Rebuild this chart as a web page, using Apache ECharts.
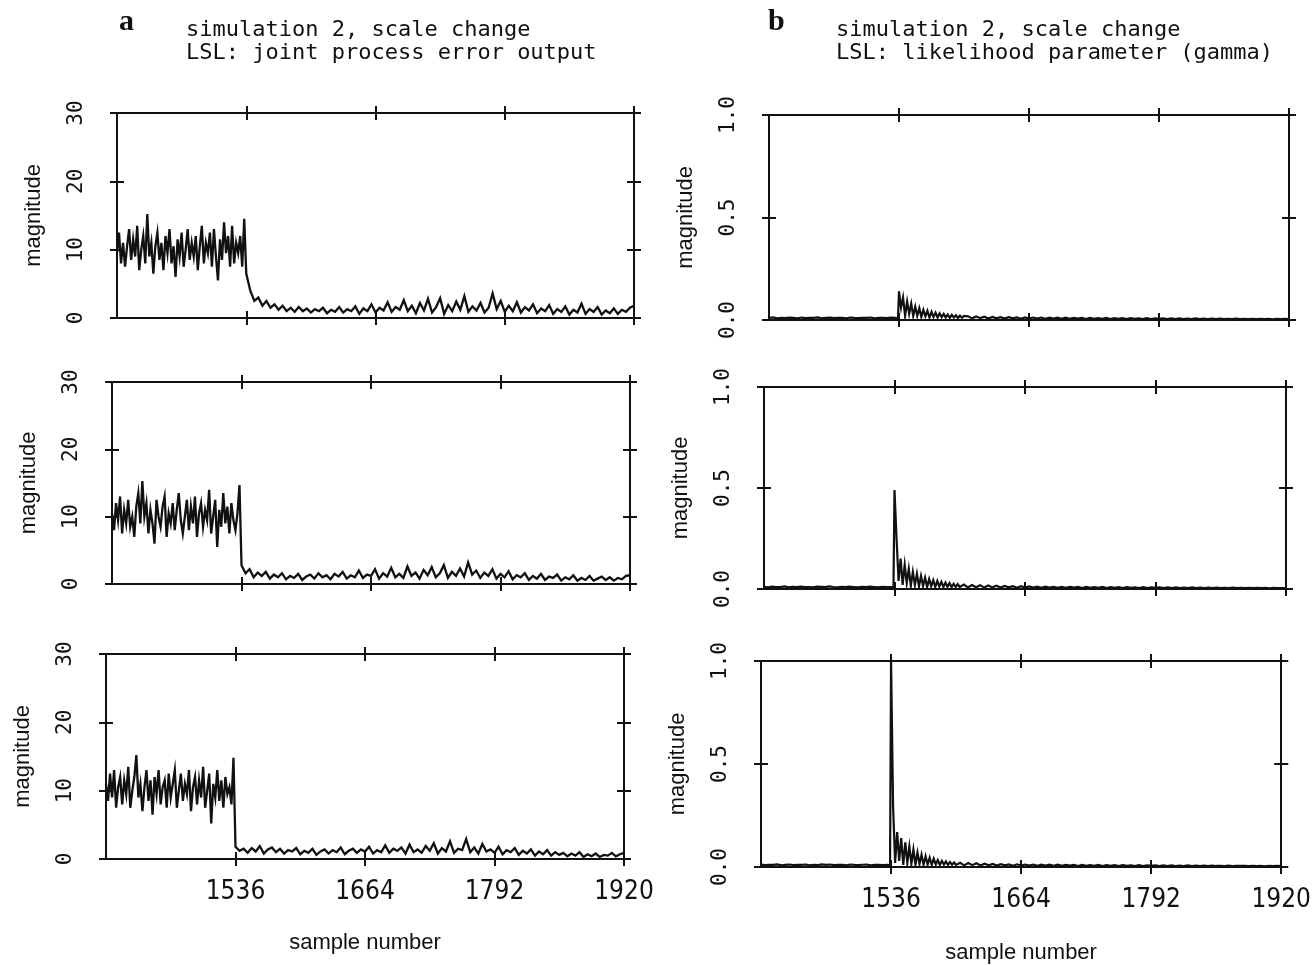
<!DOCTYPE html>
<html><head><meta charset="utf-8">
<script src="https://cdn.jsdelivr.net/npm/echarts@6/dist/echarts.min.js"></script>
<style>html,body{margin:0;padding:0;background:#fff}#c{width:1314px;height:965px}</style>
</head><body><div id="c"></div>
<script>
// ---------- text & tick labels ----------
const xTickValues = [1536, 1664, 1792, 1920];
const yTicksA = [0, 10, 20, 30];
const yTicksB = [0, 0.5, 1.0];
const letterA = 'a';
const letterB = 'b';
const titleA = ['simulation 2, scale change', 'LSL: joint process error output'];
const titleB = ['simulation 2, scale change', 'LSL: likelihood parameter (gamma)'];
const yName = 'magnitude';
const xName = 'sample number';

// ---------- sample numbers (x) ----------
function range(s, e, st) { const r = []; for (let v = s; v <= e; v += st) r.push(v); return r; }
const samplesA = range(1408, 1534, 2).concat(range(1536, 1920, 4));
const samplesB = range(1408, 1532, 4).concat([1535], range(1536, 1600, 2), range(1604, 1920, 4));

// ---------- column a: joint process error output ----------
const a1Pre = [9.5,12.5,8,11,7.5,10.5,13,8.5, 11.5,9,13.5,7,10,12,8,15.2, 9,11,6.5,10.5,12.5,8.5,11,7, 12,9.5,13,8,10.5,6,11.5,9,
  12.5,7.5,10,13,8.5,11,9,12, 7,10.5,13.5,8,11,9.5,12.5,7.5, 13,9,5.5,11.5,8.5,14,9.5,12, 7.5,13.5,8,11,9.5,12,7.5,14.5];
const a1Post = [6.5,4,2.5,3,1.8,2.5,1.5,2, 1.2,1.8,1,1.5,0.9,1.6,1,1.4, 0.8,1.3,1,1.5,0.7,1.2,0.9,1.6, 0.8,1.3,1,1.7,0.6,1.4,1,2,
  0.8,1.5,1.1,2.3,0.9,1.6,1.2,2.6, 1,1.8,0.7,2.2,1.1,2.8,0.8,1.6, 2.9,0.6,1.9,1,2.4,1.2,3.2,0.9, 1.7,1.1,2.2,0.8,1.5,3.6,1.3,2.5,
  0.9,1.8,1,2.3,0.8,1.6,1.1,2, 0.7,1.4,1,1.9,0.6,1.3,0.9,1.7, 0.5,1.2,0.8,2.1,0.6,1.3,0.9,1.6, 0.5,1.1,0.7,1.4,0.6,1.2,0.9,1.5, 1.8];
const a2Pre = [10.5,8,12,9.5,13,7.5,11,9, 12.5,8.5,10,7,11.5,13.5,9,15.3, 10,12,7.5,11,9,6,12.5,10, 8.5,11.5,13,7,10.5,9,12,8,
  11,13.5,9.5,7.5,10,12.5,8,11.5, 9,13,7,10.5,12,8.5,11,9.5, 14,7.5,10,12.5,5.5,11,8.5,13.5, 9,11.5,7.5,12,9.5,8,10.5,14.7];
const a2Post = [2.8,1.6,2.2,1,1.7,1.2,1.8,0.8, 1.4,1,1.6,0.7,1.2,0.9,1.5,0.6, 1.1,1.4,0.8,1.6,1,1.3,0.7,1.5, 1.1,1.8,0.8,1.3,1,2,0.9,1.4,
  1.2,2.2,0.8,1.6,1.1,2.4,1,1.5, 0.9,2.6,1.2,1.7,0.8,2.1,1.3,2.5, 1,1.6,2.8,0.9,1.8,1.2,2.3,1.1, 3.2,1.4,2,0.9,1.7,1.2,2.2,0.8,
  1.5,1,1.9,0.7,1.3,1,1.6,0.6, 1.2,0.8,1.5,0.6,1.1,0.9,1.4,0.5, 1,0.7,1.3,0.5,0.9,0.6,1.2,0.5, 0.8,1.1,0.6,1,0.5,0.9,0.7,1.2, 1.3];
const a3Pre = [11,8.5,12.5,9,13,7.5,10.5,12, 8,11.5,9.5,13.5,7.5,10,12,15.2, 9,11,7,10.5,13,8.5,11.5,6.5, 12,9.5,13,8,10.5,11.5,7.5,12.5,
  9,11,13,7.5,10,12.5,8.5,11, 9.5,13,7,10.5,12,8,11.5,9, 13.5,7.5,10,12.5,5.2,11,9,13, 8.5,11.5,7.5,12,9.5,10.5,8,14.8];
const a3Post = [1.8,1.2,1.5,0.9,1.6,1.1,1.9,0.8, 1.4,1.7,1,1.5,0.8,1.3,1.1,1.6, 0.7,1.2,0.9,1.5,0.6,1.1,1.4,0.8, 1.3,1,1.7,0.7,1.2,1.5,0.9,1.4,
  1.1,1.8,0.8,1.3,1,2,0.9,1.5, 1.2,1.7,0.8,2.1,1,1.4,0.9,1.9, 1.2,2.3,0.8,1.6,1.1,2.6,0.9,1.5, 1.3,2.9,1,1.7,0.8,2.2,1.1,1.4,
  0.9,1.8,0.7,1.3,1,1.6,0.6,1.2, 0.8,1.4,0.5,1.1,0.7,1.3,0.5,1, 0.6,0.9,0.4,0.8,0.5,1,0.3,0.7, 0.4,0.8,0.3,0.6,0.5,0.9,0.4,0.7, 0.9];

// ---------- column b: likelihood parameter (gamma) ----------
const b1Pre = [0.010,0.013,0.008,0.011,0.009,0.012,0.010,0.008, 0.012,0.009,0.011,0.010,0.013,0.008,0.010,0.012,
  0.009,0.011,0.010,0.008,0.012,0.010,0.009,0.011, 0.010,0.012,0.008,0.010,0.011,0.009,0.012,0.010, 0.008];
const b1Decay = [0.14,0.06,0.11,0.02,0.09,0.03,0.08,0.02, 0.065,0.02,0.058,0.015,0.05,0.018,0.045,0.012,
  0.04,0.015,0.036,0.012,0.032,0.014,0.03,0.012, 0.027,0.01,0.025,0.012,0.023,0.01,0.021,0.011, 0.02];
const b1Tail = [0.018,0.008,0.017,0.009,0.016,0.007,0.015,0.008, 0.014,0.007,0.014,0.008,0.013,0.006,0.013,0.007,
  0.012,0.007,0.012,0.006,0.011,0.007,0.011,0.006, 0.011,0.006,0.010,0.007,0.010,0.005,0.010,0.006,
  0.009,0.006,0.010,0.005,0.009,0.006,0.009,0.005, 0.009,0.006,0.008,0.005,0.009,0.005,0.008,0.006,
  0.008,0.005,0.008,0.004,0.008,0.005,0.007,0.005, 0.008,0.004,0.007,0.005,0.007,0.004,0.007,0.005,
  0.006,0.004,0.007,0.004,0.006,0.005,0.006,0.004, 0.006,0.004,0.006,0.003,0.006,0.004,0.005,0.004];
const b2Pre = [0.011,0.008,0.012,0.010,0.009,0.013,0.008,0.011, 0.010,0.012,0.009,0.010,0.008,0.012,0.011,0.009,
  0.013,0.010,0.008,0.011,0.009,0.012,0.010,0.008, 0.011,0.009,0.012,0.010,0.008,0.011,0.010,0.009, 0.008];
const b2Decay = [0.49,0.25,0.04,0.15,0.02,0.12,0.03,0.1, 0.015,0.085,0.02,0.075,0.012,0.065,0.015,0.056,
  0.01,0.05,0.014,0.044,0.01,0.04,0.012,0.035, 0.01,0.032,0.011,0.029,0.01,0.026,0.01,0.024, 0.01];
const b2Tail = [0.022,0.008,0.020,0.009,0.019,0.007,0.017,0.008, 0.016,0.007,0.015,0.008,0.014,0.006,0.014,0.007,
  0.013,0.007,0.012,0.006,0.012,0.007,0.011,0.006, 0.011,0.006,0.010,0.007,0.010,0.005,0.010,0.006,
  0.009,0.006,0.010,0.005,0.009,0.006,0.009,0.005, 0.009,0.006,0.008,0.005,0.009,0.005,0.008,0.006,
  0.008,0.005,0.008,0.004,0.008,0.005,0.007,0.005, 0.008,0.004,0.007,0.005,0.007,0.004,0.007,0.005,
  0.006,0.004,0.007,0.004,0.006,0.005,0.006,0.004, 0.006,0.004,0.006,0.003,0.006,0.004,0.005,0.004];
const b3Pre = [0.012,0.009,0.011,0.010,0.013,0.008,0.010,0.012, 0.009,0.011,0.010,0.012,0.008,0.011,0.009,0.013,
  0.010,0.012,0.009,0.011,0.010,0.008,0.012,0.010, 0.009,0.011,0.012,0.008,0.010,0.011,0.009,0.010, 0.008];
const b3Decay = [1.0,0.29,0.02,0.17,0.03,0.14,0.01,0.12, 0.02,0.1,0.015,0.085,0.01,0.07,0.015,0.06,
  0.01,0.052,0.012,0.045,0.01,0.04,0.012,0.034, 0.01,0.03,0.012,0.027,0.01,0.024,0.011,0.022, 0.01];
const b3Tail = [0.020,0.008,0.019,0.009,0.018,0.007,0.016,0.008, 0.015,0.007,0.014,0.008,0.013,0.006,0.013,0.007,
  0.012,0.007,0.012,0.006,0.011,0.007,0.011,0.006, 0.011,0.006,0.010,0.007,0.010,0.005,0.010,0.006,
  0.009,0.006,0.010,0.005,0.009,0.006,0.009,0.005, 0.009,0.006,0.008,0.005,0.009,0.005,0.008,0.006,
  0.008,0.005,0.008,0.004,0.008,0.005,0.007,0.005, 0.008,0.004,0.007,0.005,0.007,0.004,0.007,0.005,
  0.006,0.004,0.007,0.004,0.006,0.005,0.006,0.004, 0.006,0.004,0.006,0.003,0.006,0.004,0.005,0.004];

const seriesValues = [
  a1Pre.concat(a1Post), b1Pre.concat(b1Decay, b1Tail),
  a2Pre.concat(a2Post), b2Pre.concat(b2Decay, b2Tail),
  a3Pre.concat(a3Post), b3Pre.concat(b3Decay, b3Tail)
];

// ---------- layout ----------
const INK = '#111';
const panels = [
  {left:117, top:113, width:517, height:205, col:'a', bottom:false},
  {left:769, top:115, width:520, height:205, col:'b', bottom:false},
  {left:112, top:382, width:518, height:202, col:'a', bottom:false},
  {left:764, top:387, width:522, height:202, col:'b', bottom:false},
  {left:106, top:654, width:518, height:205, col:'a', bottom:true},
  {left:761, top:661, width:524, height:206, col:'b', bottom:true}
];
const lineS = {color: INK, width: 2};
const tickFont = {fontFamily: '"Liberation Sans Narrow","DejaVu Sans Condensed","Liberation Sans",sans-serif', fontSize: 26, color: INK};
const yFont = {fontFamily: '"DejaVu Sans Mono",monospace', fontSize: 21, color: INK};
const nameFont = {fontFamily: '"Liberation Sans",sans-serif', fontSize: 22, color: INK};

const grids = [], xAxes = [], yAxes = [], series = [];
panels.forEach((p, gi) => {
  grids.push({left: p.left, top: p.top, width: p.width, height: p.height, containLabel: false});
  const xb = {gridIndex: gi, type: 'value', min: 1408, max: 1920, interval: 128, splitLine: {show: false}};
  xAxes.push(Object.assign({}, xb, {
    position: 'bottom',
    axisLine: {show: true, onZero: false, lineStyle: lineS},
    axisTick: {show: true, inside: false, length: 7, customValues: xTickValues, lineStyle: lineS},
    axisLabel: Object.assign({show: p.bottom, customValues: xTickValues, margin: 20,
      formatter: v => (xTickValues.indexOf(v) >= 0 ? String(v) : '')}, tickFont),
    name: p.bottom ? xName : '', nameLocation: 'middle', nameGap: p.col === 'a' ? 73 : 75, nameTextStyle: nameFont
  }));
  xAxes.push(Object.assign({}, xb, {position: 'bottom', axisLine: {show: false, onZero: false},
    axisTick: {show: true, inside: true, length: 7, customValues: xTickValues, lineStyle: lineS}, axisLabel: {show: false}}));
  xAxes.push(Object.assign({}, xb, {position: 'top', axisLine: {show: true, onZero: false, lineStyle: lineS},
    axisTick: {show: true, inside: false, length: 7, customValues: xTickValues, lineStyle: lineS}, axisLabel: {show: false}}));
  xAxes.push(Object.assign({}, xb, {position: 'top', axisLine: {show: false, onZero: false},
    axisTick: {show: true, inside: true, length: 7, customValues: xTickValues, lineStyle: lineS}, axisLabel: {show: false}}));

  const isA = p.col === 'a';
  const yt = isA ? yTicksA : yTicksB;
  const yInner = yt.slice(1, -1);
  const yb = {gridIndex: gi, type: 'value', min: 0, max: isA ? 30 : 1, interval: isA ? 10 : 0.5, splitLine: {show: false}};
  yAxes.push(Object.assign({}, yb, {
    position: 'left',
    axisLine: {show: true, onZero: false, lineStyle: lineS},
    axisTick: {show: true, inside: false, length: 7, customValues: yt, lineStyle: lineS},
    axisLabel: Object.assign({show: true, rotate: 90, margin: 30, customValues: yt,
      formatter: v => (isA ? String(v) : v.toFixed(1))}, yFont),
    name: yName, nameLocation: 'middle', nameRotate: 90, nameGap: 72, nameTextStyle: nameFont
  }));
  yAxes.push(Object.assign({}, yb, {position: 'left', axisLine: {show: false, onZero: false},
    axisTick: {show: true, inside: true, length: 7, customValues: yInner, lineStyle: lineS}, axisLabel: {show: false}}));
  yAxes.push(Object.assign({}, yb, {position: 'right', axisLine: {show: true, onZero: false, lineStyle: lineS},
    axisTick: {show: true, inside: false, length: 7, customValues: yt, lineStyle: lineS}, axisLabel: {show: false}}));
  yAxes.push(Object.assign({}, yb, {position: 'right', axisLine: {show: false, onZero: false},
    axisTick: {show: true, inside: true, length: 7, customValues: yInner, lineStyle: lineS}, axisLabel: {show: false}}));

  const xs = isA ? samplesA : samplesB;
  const vals = seriesValues[gi];
  series.push({
    type: 'line', xAxisIndex: gi * 4, yAxisIndex: gi * 4,
    data: vals.map((v, i) => [xs[i], v]),
    showSymbol: false, symbol: 'none', clip: true,
    lineStyle: {color: INK, width: isA ? 2.3 : 2.2, join: 'miter'}, animation: false
  });
});

const titleFont = {fontFamily: '"DejaVu Sans Mono",monospace', fontSize: 22, color: INK, lineHeight: 23, fontWeight: 'normal'};
const letterFont = {fontFamily: '"Liberation Serif","DejaVu Serif",serif', fontSize: 30, fontWeight: 'bold', color: INK};
const titles = [
  {text: letterA, left: 114, top: 2, textStyle: letterFont},
  {text: letterB, left: 763, top: 2, textStyle: letterFont},
  {text: titleA.join('\n'), left: 181, top: 14, textStyle: titleFont},
  {text: titleB.join('\n'), left: 831, top: 14, textStyle: titleFont}
];

const chart = echarts.init(document.getElementById('c'), null, {renderer: 'canvas'});
chart.setOption({
  backgroundColor: '#fff',
  animation: false,
  title: titles,
  grid: grids,
  xAxis: xAxes,
  yAxis: yAxes,
  series: series
});
</script>
</body></html>
